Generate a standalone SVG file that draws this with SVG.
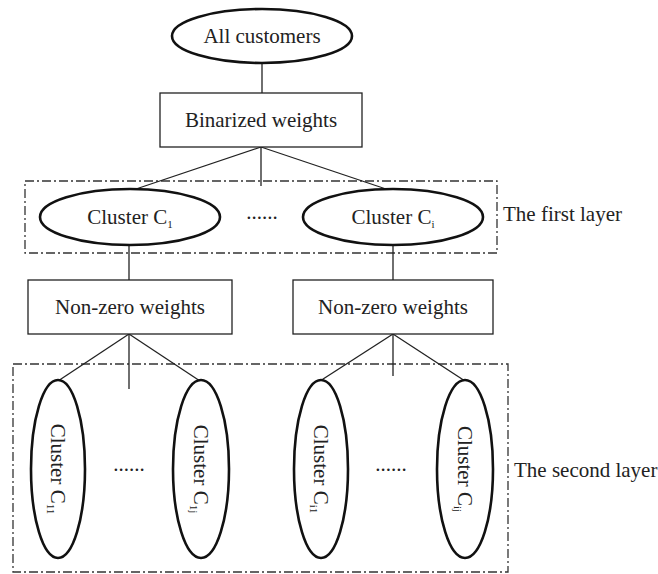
<svg xmlns="http://www.w3.org/2000/svg" width="658" height="574" viewBox="0 0 658 574">
<style>
.t{font-family:"Liberation Serif","Times New Roman",serif;font-size:21px;fill:#222;text-anchor:middle}
.lab{font-family:"Liberation Serif","Times New Roman",serif;font-size:21px;fill:#222}
.sub{font-size:11px}
.ell{fill:#fff;stroke:#111;stroke-width:2.6}
.box{fill:#fff;stroke:#222;stroke-width:1.3}
.dash{fill:none;stroke:#333;stroke-width:1.3;stroke-dasharray:9 3 2 3}
.ln{stroke:#222;stroke-width:1.3;fill:none}
</style>
<rect width="658" height="574" fill="#fff"/>
<g id="layers">
<rect class="dash" x="25" y="181" width="472" height="72"/>
<text class="lab" x="503" y="221">The first layer</text>
<rect class="dash" x="13" y="364" width="495" height="208"/>
<text class="lab" x="514" y="477">The second layer</text>
</g>
<g id="connectors">
<line class="ln" x1="262" y1="63" x2="262" y2="93"/>
<line class="ln" x1="261" y1="147" x2="133" y2="190"/>
<line class="ln" x1="261" y1="147" x2="389" y2="190"/>
<line class="ln" x1="261" y1="147" x2="261" y2="186"/>
<line class="ln" x1="129" y1="245" x2="129" y2="280"/>
<line class="ln" x1="393" y1="245" x2="393" y2="280"/>
<line class="ln" x1="129" y1="334" x2="58" y2="381"/>
<line class="ln" x1="129" y1="334" x2="200" y2="381"/>
<line class="ln" x1="129" y1="334" x2="129" y2="389"/>
<line class="ln" x1="393" y1="334" x2="320" y2="381"/>
<line class="ln" x1="393" y1="334" x2="465" y2="381"/>
<line class="ln" x1="393" y1="334" x2="393" y2="376"/>
</g>
<g id="all-customers">
<ellipse class="ell" cx="262" cy="36" rx="90" ry="27"/>
<text class="t" x="262" y="43">All customers</text>
</g>
<g id="binarized-weights">
<rect class="box" x="160" y="93" width="202" height="54"/>
<text class="t" x="261" y="127">Binarized weights</text>
</g>
<g id="cluster-c1">
<ellipse class="ell" cx="130" cy="217" rx="90" ry="28"/>
<text class="t" x="130" y="224">Cluster C<tspan class="sub" dy="4">1</tspan></text>
</g>
<g id="dots-1">
<text class="t" x="262" y="219">......</text>
</g>
<g id="cluster-ci">
<ellipse class="ell" cx="393" cy="217" rx="90" ry="28"/>
<text class="t" x="393" y="224">Cluster C<tspan class="sub" dy="4">i</tspan></text>
</g>
<g id="nonzero-1">
<rect class="box" x="28" y="280" width="204" height="54"/>
<text class="t" x="130" y="314">Non-zero weights</text>
</g>
<g id="nonzero-2">
<rect class="box" x="293" y="280" width="200" height="54"/>
<text class="t" x="393" y="314">Non-zero weights</text>
</g>
<g id="cluster-c11">
<ellipse class="ell" cx="58" cy="469" rx="27" ry="89"/>
<text class="t" transform="translate(58,469) rotate(90)" y="7">Cluster C<tspan class="sub" dy="4">11</tspan></text>
</g>
<g id="dots-2">
<text class="t" x="129" y="471">......</text>
</g>
<g id="cluster-c1j">
<ellipse class="ell" cx="201" cy="469" rx="28" ry="89"/>
<text class="t" transform="translate(201,469) rotate(90)" y="7">Cluster C<tspan class="sub" dy="4">1j</tspan></text>
</g>
<g id="cluster-ci1">
<ellipse class="ell" cx="321" cy="469" rx="27" ry="89"/>
<text class="t" transform="translate(321,469) rotate(90)" y="7">Cluster C<tspan class="sub" dy="4">i1</tspan></text>
</g>
<g id="dots-3">
<text class="t" x="391" y="471">......</text>
</g>
<g id="cluster-cij">
<ellipse class="ell" cx="465" cy="469" rx="28" ry="89"/>
<text class="t" transform="translate(465,469) rotate(90)" y="7">Cluster C<tspan class="sub" dy="4">ij</tspan></text>
</g>
</svg>
